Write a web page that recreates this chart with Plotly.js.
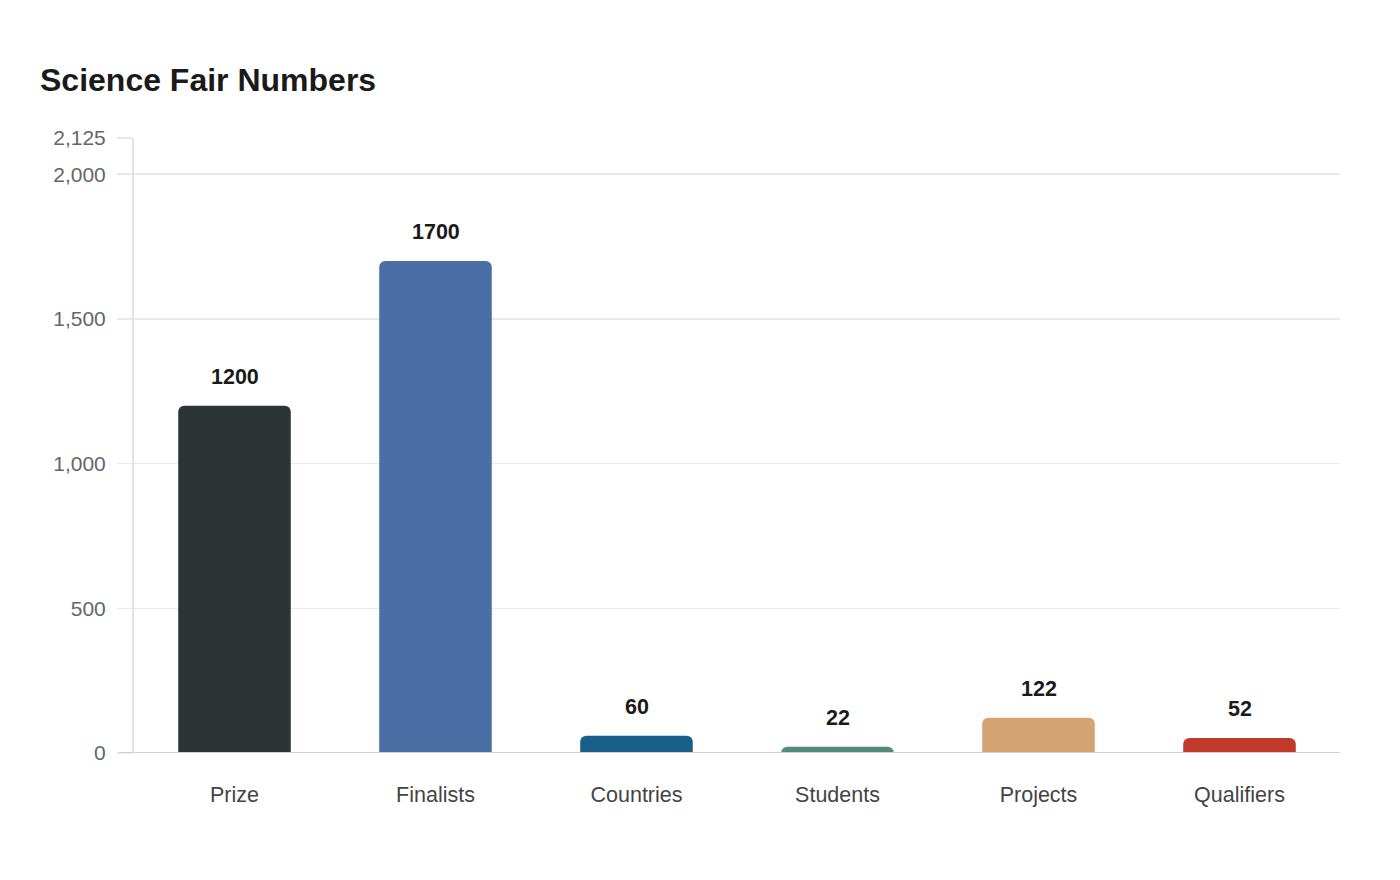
<!DOCTYPE html>
<html>
<head>
<meta charset="utf-8">
<script src="https://cdn.plot.ly/plotly-3.0.1.min.js"></script>
<style>
  html, body { margin: 0; padding: 0; background: #ffffff; }
  #chart { width: 1400px; height: 880px; }
</style>
</head>
<body>
<div id="chart"></div>
<script>
// Science fair figures, one bar per category
const categories = ["Prize", "Finalists", "Countries", "Students", "Projects", "Qualifiers"];
const values = [1200, 1700, 60, 22, 122, 52];
const barColors = ["#2d3436", "#4a6fa5", "#1a5e8a", "#4f8a7b", "#d4a373", "#c0392b"];
const yTickVals = [0, 500, 1000, 1500, 2000, 2125];
const yTickText = ["0", "500", "1,000", "1,500", "2,000", "2,125"];

const FONT = "Liberation Sans, Arial, sans-serif";

const trace = {
  type: "bar",
  x: categories,
  y: values,
  marker: { color: barColors, cornerradius: 6, line: { width: 0 } },
  hoverinfo: "x+y",
  showlegend: false
};

// value labels sitting above each bar
const labels = categories.map((c, i) => ({
  x: c,
  y: values[i],
  xref: "x",
  yref: "y",
  text: String(values[i]),
  showarrow: false,
  yanchor: "middle",
  yshift: 29,
  font: { family: FONT, size: 21.5, color: "#1a1a1a", weight: "bold" }
}));

const layout = {
  width: 1400,
  height: 880,
  paper_bgcolor: "#ffffff",
  plot_bgcolor: "#ffffff",
  margin: { l: 134, r: 60, t: 138, b: 127 },
  title: {
    text: "<b>Science Fair Numbers</b>",
    x: 40 / 1400,
    xref: "container",
    xanchor: "left",
    y: 1 - 80 / 880,
    yref: "container",
    yanchor: "middle",
    font: { family: FONT, size: 32, color: "#1a1a1a" }
  },
  bargap: 0.44,
  xaxis: {
    type: "category",
    showgrid: false,
    showline: false,
    zeroline: false,
    ticks: "",
    ticklabelstandoff: 26,
    tickfont: { family: FONT, size: 21.5, color: "#444444" }
  },
  yaxis: {
    range: [0, 2125],
    tickvals: yTickVals,
    ticktext: yTickText,
    showgrid: true,
    gridcolor: "#e9e9e9",
    gridwidth: 1.5,
    zeroline: false,
    showline: true,
    linecolor: "#e2e2e2",
    linewidth: 2,
    ticks: "outside",
    ticklen: 15,
    tickwidth: 1.5,
    tickcolor: "#e9e9e9",
    ticklabelstandoff: 7,
    tickfont: { family: FONT, size: 21, color: "#666666" }
  },
  shapes: [
    {
      type: "line",
      xref: "paper",
      yref: "y",
      x0: -15 / 1206,
      x1: 1,
      y0: 0,
      y1: 0,
      line: { color: "#d0d0d0", width: 2 },
      layer: "above"
    }
  ],
  annotations: labels
};

Plotly.newPlot("chart", [trace], layout, { displayModeBar: false, staticPlot: true });
</script>
</body>
</html>
